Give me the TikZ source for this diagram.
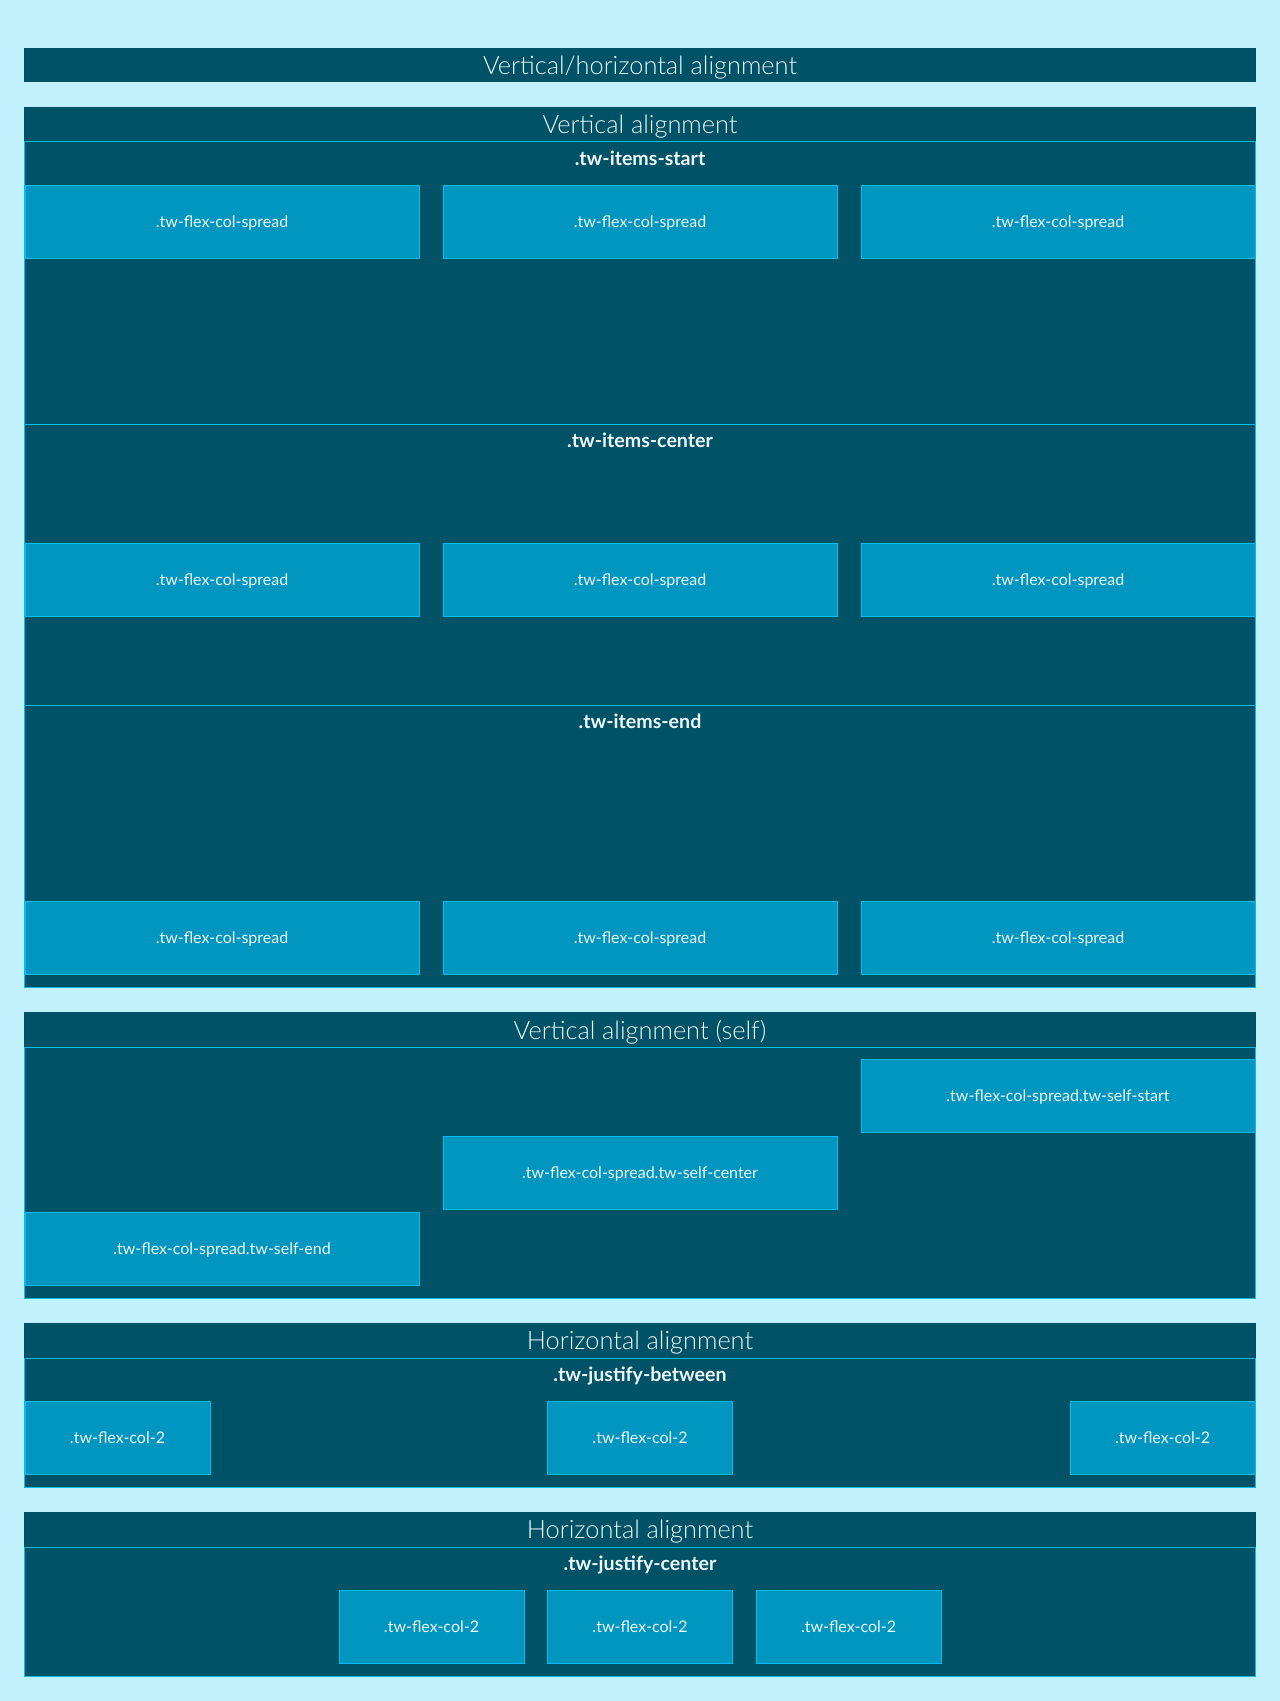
\documentclass[tikz,border=0pt]{standalone}
\usepackage{fontspec}
\setmainfont{Lato}
\newfontfamily\lightfont{Lato Light}
\usetikzlibrary{positioning}
\definecolor{bgcolor}{HTML}{C2F1FE}
\definecolor{panelcolor}{HTML}{005267}
\definecolor{itemcolor}{HTML}{0096BF}
\definecolor{edgecolor}{HTML}{00BDEE}
\definecolor{textcolor}{HTML}{EEF8FB}
\tikzstyle{heading} = [text=textcolor, text depth=0pt, font=\lightfont\fontsize{19}{23}\selectfont]
\tikzstyle{groupname} = [text=textcolor, text depth=0pt, font=\bfseries\fontsize{14.7}{17}\selectfont]
\tikzstyle{item} = [rectangle, draw=edgecolor, fill=itemcolor, line width=0.75pt, inner sep=0pt, minimum width=295.5pt, minimum height=54.75pt, text=textcolor, text depth=0pt, font=\fontsize{12}{14}\selectfont]
\tikzstyle{smallitem} = [item, minimum width=138.75pt]
\tikzstyle{areaframe} = [draw=edgecolor, line width=0.75pt]

\begin{document}
\begin{tikzpicture}[x=0.75pt, y=-0.75pt]
    \fill[bgcolor] (0,0) rectangle (1280,1701);
    \useasboundingbox (0,0) rectangle (1280,1701);

    % Title bar
    \fill[panelcolor] (24,48) rectangle (1256,82);
    \node[heading] (main_title) at (640,65) {Vertical/horizontal alignment};

    % Vertical alignment
    \fill[panelcolor] (24,107) rectangle (1256,987);
    \node[heading] (valign_title) at (640,124.5) {Vertical alignment};
    \draw[areaframe] (24.5,142) rectangle (1255.5,424);
    \draw[areaframe] (24.5,424) rectangle (1255.5,705);
    \draw[areaframe] (24.5,705) rectangle (1255.5,987);

    \node[groupname] (start_name) at (640,158) {.tw-items-start};
    \node[item] (start1) at (222,222) {.tw-flex-col-spread};
    \node[item] (start2) at (640,222) {.tw-flex-col-spread};
    \node[item] (start3) at (1058,222) {.tw-flex-col-spread};

    \node[groupname] (center_name) at (640,440) {.tw-items-center};
    \node[item] (center1) at (222,580) {.tw-flex-col-spread};
    \node[item] (center2) at (640,580) {.tw-flex-col-spread};
    \node[item] (center3) at (1058,580) {.tw-flex-col-spread};

    \node[groupname] (end_name) at (640,721) {.tw-items-end};
    \node[item] (end1) at (222,937.5) {.tw-flex-col-spread};
    \node[item] (end2) at (640,937.5) {.tw-flex-col-spread};
    \node[item] (end3) at (1058,937.5) {.tw-flex-col-spread};

    % Vertical alignment (self)
    \fill[panelcolor] (24,1012) rectangle (1256,1298);
    \node[heading] (self_title) at (640,1029.5) {Vertical alignment (self)};
    \draw[areaframe] (24.5,1047) rectangle (1255.5,1298);

    \node[item] (self_start) at (1058,1096) {.tw-flex-col-spread.tw-self-start};
    \node[item] (self_center) at (640,1172.5) {.tw-flex-col-spread.tw-self-center};
    \node[item] (self_end) at (222,1249) {.tw-flex-col-spread.tw-self-end};

    % Horizontal alignment: between
    \fill[panelcolor] (24,1323) rectangle (1256,1487);
    \node[heading] (between_title) at (640,1340.5) {Horizontal alignment};
    \draw[areaframe] (24.5,1358) rectangle (1255.5,1487);

    \node[groupname] (between_name) at (640,1374) {.tw-justify-between};
    \node[smallitem] (between1) at (117.5,1437.5) {.tw-flex-col-2};
    \node[smallitem] (between2) at (640,1437.5) {.tw-flex-col-2};
    \node[smallitem] (between3) at (1162.5,1437.5) {.tw-flex-col-2};

    % Horizontal alignment: center
    \fill[panelcolor] (24,1512) rectangle (1256,1676);
    \node[heading] (hcenter_title) at (640,1529.5) {Horizontal alignment};
    \draw[areaframe] (24.5,1547) rectangle (1255.5,1676);

    \node[groupname] (hcenter_name) at (640,1563) {.tw-justify-center};
    \node[smallitem] (hcenter1) at (431.5,1626.5) {.tw-flex-col-2};
    \node[smallitem] (hcenter2) at (640,1626.5) {.tw-flex-col-2};
    \node[smallitem] (hcenter3) at (848.5,1626.5) {.tw-flex-col-2};

\end{tikzpicture}
\end{document}
